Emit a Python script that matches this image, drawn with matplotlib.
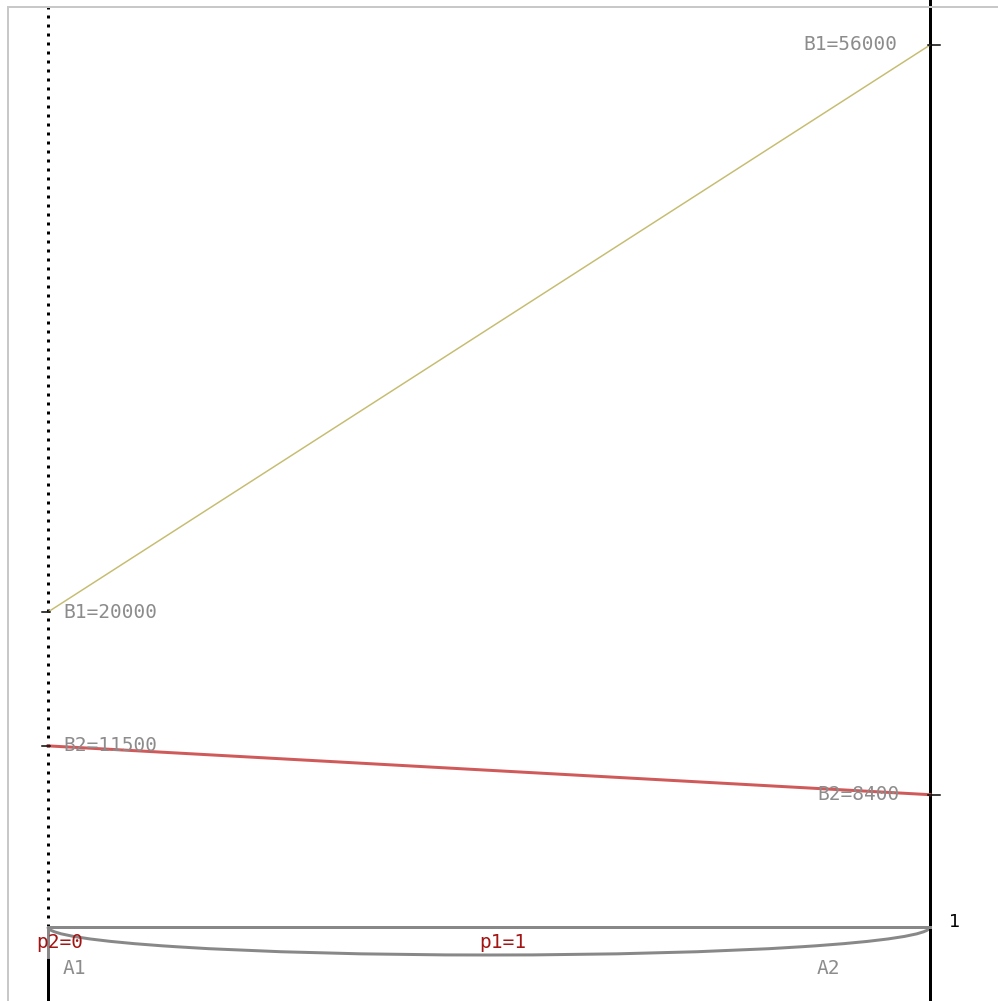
import matplotlib
matplotlib.use("Agg")
import matplotlib.pyplot as plt
from matplotlib.patches import Arc
from matplotlib.lines import Line2D

# Data
actions = ["A1", "A2"]
p_labels = ["p2=0", "p1=1"]
b1_values = [20000, 56000]   # B1 at p=0 and p=1
b2_values = [11500, 8400]    # B2 at p=0 and p=1
p_axis = [0, 1]
axis_max_label = "1"

W, H, DPI = 998, 1001, 100
fig = plt.figure(figsize=(W / DPI, H / DPI), dpi=DPI)
ax = fig.add_axes([0, 0, 1, 1])
ax.set_axis_off()

# pixel geometry: p=0 at px 48, p=1 at px 930; value 0 at px 927 from top
px_per_p = 930 - 48
px_per_val = (612 - 45) / (56000 - 20000)
ax.set_xlim(-48 / px_per_p, (W - 48) / px_per_p)
ax.set_ylim(-(H - 927) / px_per_val, 927 / px_per_val)

def px2pt(px):
    return px * 72 / DPI

ymin, ymax = ax.get_ylim()
gap = 31 / px_per_val

# left axis: dotted above 0, grey short segment, solid black below
ax.plot([0, 0], [0, ymax], color="black", lw=px2pt(3),
        linestyle=(0, (1, 2)), solid_capstyle="butt", dash_capstyle="butt")
ax.plot([0, 0], [ymin, -gap], color="black", lw=px2pt(3), solid_capstyle="butt")
ax.plot([0, 0], [-gap, 0], color="#888888", lw=px2pt(3), solid_capstyle="butt")
# right axis
ax.plot([1, 1], [ymin, ymax], color="black", lw=px2pt(3))

# probability baseline and arc
ax.plot(p_axis, [0, 0], color="#888888", lw=px2pt(3))
depth = 28 / px_per_val
ax.add_patch(Arc((0.5, 0), 1.0, 2 * depth, theta1=180, theta2=360,
                 color="#888888", lw=px2pt(3)))

# value lines
ax.plot(p_axis, b1_values, color="#c6bd72", lw=px2pt(1.5))
ax.plot(p_axis, b2_values, color="#d05a5a", lw=px2pt(3))

# ticks
tl = 6 / px_per_p
tr = 10 / px_per_p
for v in (b1_values[0], b2_values[0]):
    ax.plot([-tl, 2 / px_per_p], [v, v], color="black", lw=px2pt(1.5))
for v in (b1_values[1], b2_values[1]):
    ax.plot([1 - 2 / px_per_p, 1 + tr], [v, v], color="black", lw=px2pt(1.5))

mono = dict(family="DejaVu Sans Mono", fontsize=14)
grey = "#8c8c8c"
red = "#a31515"

def lab(x, y, s, dx, dy, ha, color, **kw):
    ax.annotate(s, (x, y), xytext=(dx, dy), textcoords="offset pixels",
                ha=ha, va="center", color=color, **kw)

lab(0, b1_values[0], f"B1={b1_values[0]}", 15, 0, "left", grey, **mono)
lab(0, b2_values[0], f"B2={b2_values[0]}", 15, 0, "left", grey, **mono)
lab(1, b1_values[1], f"B1={b1_values[1]}", -33, 1, "right", grey, **mono)
lab(1, b2_values[1], f"B2={b2_values[1]}", -30, 0, "right", grey, **mono)

lab(0, 0, p_labels[0], 12, -15, "center", red, **mono)
lab(0.5, 0, p_labels[1], 14, -15, "center", red, **mono)
lab(0, 0, actions[0], 26, -41, "center", grey, **mono)
lab(1, 0, actions[1], -102, -41, "center", grey, **mono)
lab(1, 0, axis_max_label, 25, 5, "center", "black",
    family="DejaVu Sans", fontsize=13)

# outer frame (grey) at top and left
fig.add_artist(Line2D([8 / W, 8 / W], [0, 1 - 7 / H], color="#c8c8c8",
                      lw=px2pt(2), transform=fig.transFigure))
fig.add_artist(Line2D([8 / W, 1], [1 - 7 / H, 1 - 7 / H], color="#c8c8c8",
                      lw=px2pt(2), transform=fig.transFigure))

fig.savefig("out.png", dpi=DPI, facecolor="white")
